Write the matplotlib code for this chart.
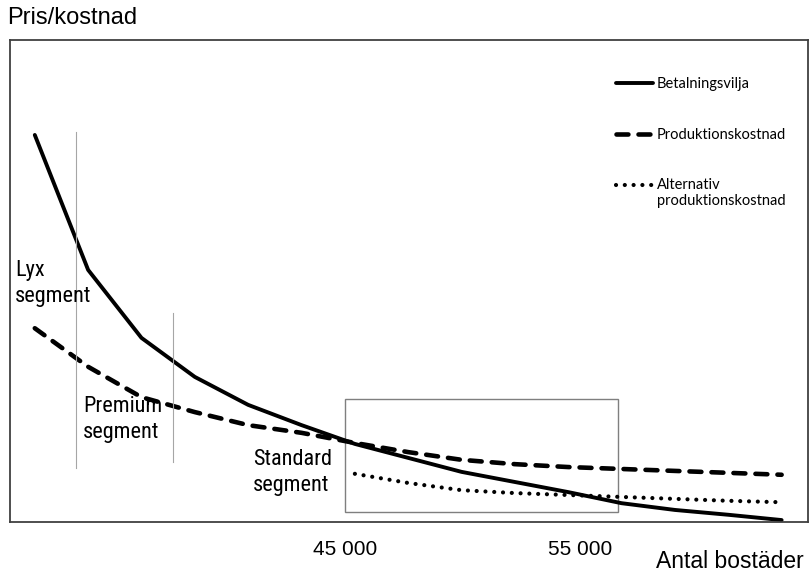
import os
import numpy as np
import matplotlib.pyplot as plt
from matplotlib import font_manager
from matplotlib.font_manager import FontProperties
from matplotlib.patches import Rectangle

# smal font för segmenttexterna, om någon finns
smala = []
for f in font_manager.fontManager.ttflist:
    base = os.path.basename(f.fname).lower()
    if ('narrow' in base or 'condensed' in base) and 'bold' not in base \
            and 'italic' not in base and 'oblique' not in base and 'light' not in base \
            and 'semi' not in base and 'extra' not in base and 'thin' not in base \
            and 'medium' not in base and 'black' not in base:
        smala.append(f.fname)
order = ['liberationsansnarrow', 'robotocondensed', 'notosans', 'opensans', 'dejavusans']
smala.sort(key=lambda p: next((i for i, o in enumerate(order)
                               if o in os.path.basename(p).lower().replace('-', '').replace('_', '')), 99))
if smala:
    seg_font = FontProperties(fname=smala[0], size=16)
else:
    seg_font = FontProperties(family='DejaVu Sans', stretch='condensed', size=15)

# antal bostäder (x) och pris/kostnad (godtycklig skala 0-100)
antal = [31800, 34070, 36340, 38610, 40880, 43150, 45420, 47690,
         49960, 52230, 54500, 56770, 59040, 61310, 63580]
betalningsvilja = [80.3, 52.3, 38.2, 30.1, 24.3, 20.1, 16.2, 13.3,
                   10.4, 8.3, 6.2, 3.9, 2.5, 1.5, 0.4]
produktionskostnad = [40.2, 32.2, 25.9, 22.8, 20.1, 18.5, 16.4, 14.5,
                      12.9, 12.0, 11.4, 11.0, 10.6, 10.2, 9.8]
alt_kostnad = [np.nan] * 6 + [10.0, 8.1, 6.6, 6.0, 5.6, 5.2, 4.8, 4.4, 4.1]

segment_granser = [33550, 37680]
granser_ymin = [11.2, 12.4]
granser_ymax = [80.9, 43.4]
standard_box = (45000, 2.1, 11620, 23.4)  # x, y, bredd, höjd

fig = plt.figure(figsize=(8.09, 5.74), dpi=100)
ax = fig.add_axes([10 / 809, 52 / 574, 798 / 809, 482 / 574])

ax.plot(antal, betalningsvilja, color='black', lw=2.8, solid_capstyle='round',
        solid_joinstyle='round', label='Betalningsvilja')
ax.plot(antal, produktionskostnad, color='black', lw=3.3, dashes=(2.6, 2.2),
        dash_capstyle='round', label='Produktionskostnad')
ax.plot(antal, alt_kostnad, color='black', lw=3.0, dashes=(0.01, 2.1),
        dash_capstyle='round', label='Alternativ\nproduktionskostnad')

for xg, y0, y1 in zip(segment_granser, granser_ymin, granser_ymax):
    ax.plot([xg, xg], [y0, y1], color='#a6a6a6', lw=0.8)

bx, by, bw, bh = standard_box
ax.add_patch(Rectangle((bx, by), bw, bh, fill=False, edgecolor='#7f7f7f', lw=1.0))

ax.text(30957, 54.3, 'Lyx\nsegment', fontproperties=seg_font, ha='left', va='top',
        linespacing=1.3)
ax.text(33851, 26.1, 'Premium\nsegment', fontproperties=seg_font, ha='left', va='top',
        linespacing=1.3)
ax.text(41085, 15.2, 'Standard\nsegment', fontproperties=seg_font, ha='left', va='top',
        linespacing=1.3)

ax.set_xlim(30745, 64702)
ax.set_ylim(0, 100)
ax.set_xticks([45000, 55000])
ax.set_xticklabels(['45 000', '55 000'], family='Liberation Sans', fontsize=15)
ax.set_yticks([])
ax.tick_params(axis='x', length=0, pad=13)
for s in ax.spines.values():
    s.set_color('#404040')
    s.set_linewidth(1.3)

leg = ax.legend(loc='upper left', bbox_to_anchor=(593 / 798, 0.95), frameon=False,
                prop={'family': 'Lato', 'size': 10.5}, handlelength=2.5,
                handletextpad=0.3, labelspacing=2.5)
# prickarna i höjd med första raden, som i originalet
alt_handle = leg.get_lines()[2]
alt_handle.set_ydata(np.asarray(alt_handle.get_ydata()) + 6)

fig.text(7 / 809, 1 - 18 / 574, 'Pris/kostnad', family='Liberation Sans', fontsize=17,
         ha='left', va='center')
fig.text(804 / 809, 1 - 561 / 574, 'Antal bostäder', family='Liberation Sans', fontsize=16.5,
         ha='right', va='center')

fig.savefig('out.png', dpi=100)
